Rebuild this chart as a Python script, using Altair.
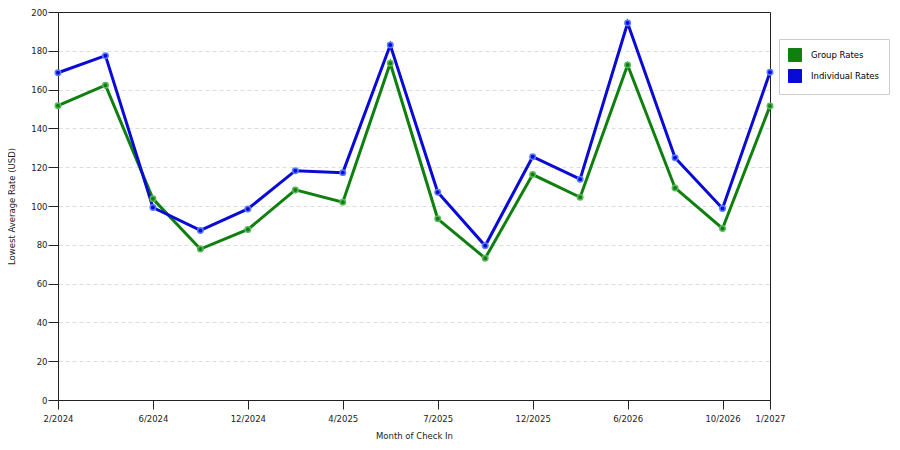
import altair as alt
import pandas as pd

# one point per survey month, only some months are labelled on the axis
idx = list(range(16))
group_rates = [151.7, 162.3, 103.7, 77.8, 87.9, 108.3, 101.9, 173.6,
               93.4, 73.1, 116.2, 104.5, 172.7, 109.3, 88.4, 151.5]
individual_rates = [168.7, 177.5, 99.2, 87.4, 98.5, 118.2, 117.2, 183.0,
                    107.1, 79.5, 125.4, 113.8, 194.3, 124.9, 98.7, 168.9]
tick_pos = [0, 2, 4, 6, 8, 10, 12, 14, 15]
tick_labels = ["2/2024", "6/2024", "12/2024", "4/2025", "7/2025",
               "12/2025", "6/2026", "10/2026", "1/2027"]
series = ["Group Rates", "Individual Rates"]

df = pd.concat([
    pd.DataFrame({"i": idx, "rate": group_rates, "series": series[0]}),
    pd.DataFrame({"i": idx, "rate": individual_rates, "series": series[1]}),
])

label_map = "{" + ",".join(f"'{p}':'{t}'" for p, t in zip(tick_pos, tick_labels)) + "}"

font = "DejaVu Sans"
fs = 8.5
x = alt.X("i:Q", title="Month of Check In",
          scale=alt.Scale(domain=[0, 15], nice=False, zero=False),
          axis=alt.Axis(values=tick_pos, labelExpr=label_map + "[datum.value]",
                        grid=False, tickSize=9, labelPadding=5, titlePadding=9,
                        labelOverlap=False, labelFlush=False))
y = alt.Y("rate:Q", title="Lowest Average Rate (USD)",
          scale=alt.Scale(domain=[0, 200], nice=False),
          axis=alt.Axis(values=list(range(0, 201, 20)), tickSize=10, labelPadding=1,
                        gridDash=[4, 3], gridColor="#dddddd", titlePadding=14,
                        gridOpacity=alt.condition("datum.value == 200 || datum.value == 0",
                                                  alt.value(0), alt.value(1))))

colors = alt.Scale(domain=series, range=["#0f800f", "#0a0ad6"])
legend = alt.Legend(orient="none", legendX=721, legendY=27,
                    symbolType="square", symbolSize=169,
                    symbolStrokeColor="#333333", symbolStrokeWidth=1,
                    labelFontSize=fs, labelFont=font, padding=9,
                    rowPadding=3, labelOffset=9,
                    strokeColor="#cccccc", fillColor="white")

base = alt.Chart(df).encode(x=x, y=y)

lines = base.mark_line(strokeWidth=3).encode(
    color=alt.Color("series:N", scale=colors, title=None, legend=legend),
    detail="series:N",
)
points = base.mark_point(filled=True, size=30, opacity=1, strokeWidth=1.5).encode(
    color=alt.Color("series:N", scale=colors, title=None, legend=legend),
    stroke=alt.Stroke("series:N", scale=alt.Scale(domain=series, range=["#5cb85c", "#5a7cff"]),
                      legend=None),
)

chart = (lines + points).properties(
    width=712, height=388,
    autosize=alt.AutoSizeParams(type="none"),
    padding={"left": 50, "top": 4, "right": 122, "bottom": 40},
).configure_view(stroke="#222222", strokeWidth=1).configure_axis(
    domainColor="#222222", tickColor="#222222", labelColor="#222222",
    titleColor="#222222", labelFont=font, titleFont=font,
    labelFontSize=fs, titleFontSize=fs, titleFontWeight="normal",
)

chart.save("out.html", embed_options={"renderer": "svg", "actions": False})
